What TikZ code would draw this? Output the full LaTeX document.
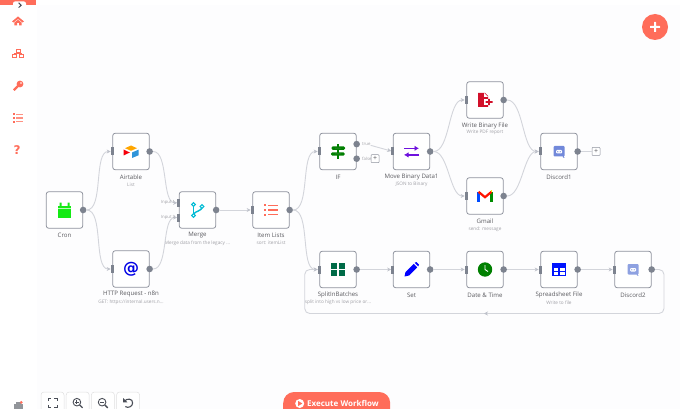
\documentclass[tikz,border=0pt]{standalone}
\usepackage{fontspec}
\setmainfont{Open Sans}
\newfontfamily\symfont{DejaVu Sans}
\usetikzlibrary{positioning, arrows.meta, shapes.geometric}
\definecolor{n8nred}{HTML}{FF6D5A}
\definecolor{canvasbg}{HTML}{FDFDFE}
\definecolor{boxline}{HTML}{8F939E}
\definecolor{portgray}{HTML}{7D838F}
\definecolor{linkgray}{HTML}{D3D5DB}
\definecolor{tipgray}{HTML}{BEC1CA}
\definecolor{namegray}{HTML}{5A5A5F}
\definecolor{subgray}{HTML}{A0A0A6}
\definecolor{discord}{HTML}{7289DA}
\definecolor{toolgray}{HTML}{4A4E57}
\definecolor{cronicon}{HTML}{14EA14}
\definecolor{mergeicon}{HTML}{00BBD4}
\definecolor{moveicon}{HTML}{6F12DE}
\definecolor{fileicon}{HTML}{D2102A}
\tikzstyle{nodebox} = [rectangle, rounded corners=2.5pt, line width=0.8pt, minimum size=36.5pt, inner sep=0pt, draw=boxline, fill=white]
\tikzstyle{inport} = [rectangle, minimum width=3pt, minimum height=8pt, inner sep=0pt, fill=portgray]
\tikzstyle{outport} = [circle, minimum size=6.6pt, inner sep=0pt, fill=portgray]
\tikzstyle{nodename} = [font=\fontsize{6.1}{7}\selectfont, text=namegray, inner sep=0pt, node distance=25.5pt]
\tikzstyle{nodesub} = [font=\fontsize{4.7}{5}\selectfont, text=subgray, inner sep=0pt, node distance=32.8pt]
\tikzstyle{portlabel} = [font=\fontsize{4.3}{5}\selectfont, text=subgray, inner sep=0pt]
\tikzstyle{addbox} = [rectangle, rounded corners=0.8pt, line width=0.5pt, minimum size=8pt, inner sep=0pt, draw=boxline, fill=white, font=\fontsize{7}{7}\selectfont, text=namegray]
\tikzstyle{toolbox} = [rectangle, rounded corners=3pt, line width=0.5pt, minimum width=23pt, minimum height=34pt, draw=black!12, fill=white]
\tikzstyle{arrow} = [line width=0.9pt, draw=linkgray, -{Stealth[length=4pt, width=4pt, color=tipgray]}]
\tikzstyle{link} = [line width=0.9pt, draw=linkgray]
\tikzstyle{elbow} = [out=0, in=180, looseness=0.7]
\begin{document}
\begin{tikzpicture}[x=1pt, y=-1pt, node distance=73.5pt]
    \useasboundingbox (0,0) rectangle (680,409);
    \clip (0,0) rectangle (680,409);
    \fill [white] (0,0) rectangle (680,409);
    \fill [canvasbg] (37,5) rectangle (680,409);
    % workflow nodes
    \node (cron) [nodebox] at (64.5,210) {};
    \node (airtable) [nodebox, right of=cron, xshift=-7pt, yshift=58.5pt] {};
    \node (http) [nodebox, right of=cron, xshift=-7pt, yshift=-59pt] {};
    \node (merge) [nodebox, right of=cron, xshift=59.5pt] {};
    \node (itemlists) [nodebox, right of=merge] {};
    \node (if) [nodebox, right of=itemlists, xshift=-6.5pt, yshift=58.5pt] {};
    \node (movebin) [nodebox, right of=if] {};
    \node (writebin) [nodebox, right of=movebin, yshift=51.5pt] {};
    \node (gmail) [nodebox, right of=movebin, yshift=-44.5pt] {};
    \node (discordone) [nodebox, right of=movebin, xshift=74pt] {};
    \node (split) [nodebox, right of=itemlists, xshift=-6.5pt, yshift=-59.5pt] {};
    \node (set) [nodebox, right of=split] {};
    \node (datetime) [nodebox, right of=set] {};
    \node (sheet) [nodebox, right of=datetime, xshift=0.5pt] {};
    \node (discordtwo) [nodebox, right of=sheet, xshift=0.5pt] {};
    % ports
    \node (cronout) [outport] at (cron.east) {};
    \node (airtablein) [inport] at (airtable.west) {};
    \node (airtableout) [outport] at (airtable.east) {};
    \node (httpin) [inport] at (http.west) {};
    \node (httpout) [outport] at (http.east) {};
    \node (mergeina) [inport, yshift=7.2pt] at (merge.west) {};
    \node (mergeinb) [inport, yshift=-7.5pt] at (merge.west) {};
    \node (mergeout) [outport] at (merge.east) {};
    \node (itemlistsin) [inport] at (itemlists.west) {};
    \node (itemlistsout) [outport] at (itemlists.east) {};
    \node (ifin) [inport] at (if.west) {};
    \node (iftrue) [outport, yshift=7.4pt] at (if.east) {};
    \node (iffalse) [outport, yshift=-7.2pt] at (if.east) {};
    \node (movebinin) [inport] at (movebin.west) {};
    \node (movebinout) [outport] at (movebin.east) {};
    \node (writebinin) [inport] at (writebin.west) {};
    \node (writebinout) [outport] at (writebin.east) {};
    \node (gmailin) [inport] at (gmail.west) {};
    \node (gmailout) [outport] at (gmail.east) {};
    \node (discordonein) [inport] at (discordone.west) {};
    \node (discordoneout) [outport] at (discordone.east) {};
    \node (splitin) [inport] at (split.west) {};
    \node (splitout) [outport] at (split.east) {};
    \node (setin) [inport] at (set.west) {};
    \node (setout) [outport] at (set.east) {};
    \node (datetimein) [inport] at (datetime.west) {};
    \node (datetimeout) [outport] at (datetime.east) {};
    \node (sheetin) [inport] at (sheet.west) {};
    \node (sheetout) [outport] at (sheet.east) {};
    \node (discordtwoin) [inport] at (discordtwo.west) {};
    \node (discordtwoout) [outport] at (discordtwo.east) {};
    % texts
    \node (crontext) [nodename, below of=cron] {Cron};
    \node (airtabletext) [nodename, below of=airtable] {Airtable};
    \node (airtablesub) [nodesub, below of=airtable] {List};
    \node (httptext) [nodename, below of=http] {HTTP Request - n8n};
    \node (httpsub) [nodesub, below of=http] {GET: https://internal.users.n...};
    \node (mergetext) [nodename, below of=merge] {Merge};
    \node (mergesub) [nodesub, below of=merge] {Merge data from the legacy ...};
    \node (itemliststext) [nodename, below of=itemlists] {Item Lists};
    \node (itemlistssub) [nodesub, below of=itemlists] {sort: itemList};
    \node (iftext) [nodename, below of=if] {IF};
    \node (movebintext) [nodename, below of=movebin] {Move Binary Data1};
    \node (movebinsub) [nodesub, below of=movebin] {JSON to Binary};
    \node (writebintext) [nodename, below of=writebin] {Write Binary File};
    \node (writebinsub) [nodesub, below of=writebin] {Write PDF report};
    \node (gmailtext) [nodename, below of=gmail] {Gmail};
    \node (gmailsub) [nodesub, below of=gmail] {send: message};
    \node (discordonetext) [nodename, below of=discordone] {Discord1};
    \node (splittext) [nodename, below of=split] {SplitInBatches};
    \node (splitsub) [nodesub, below of=split] {split into high vs low price or...};
    \node (settext) [nodename, below of=set] {Set};
    \node (datetimetext) [nodename, below of=datetime] {Date \& Time};
    \node (sheettext) [nodename, below of=sheet] {Spreadsheet File};
    \node (sheetsub) [nodesub, below of=sheet] {Write to file};
    \node (discordtwotext) [nodename, below of=discordtwo] {Discord2};
    \node (iflabela) [portlabel, right=1.8pt of iftrue] {true};
    \node (iflabelb) [portlabel, right=1.8pt of iffalse] {false};
    \node (ifadd) [addbox] at (375,158.7) {+};
    \node (discordadd) [addbox] at (596,151.5) {+};
    % connectors
    \draw [arrow] (cronout) to[elbow] (airtablein);
    \draw [arrow] (cronout) to[elbow] (httpin);
    \draw [arrow] (airtableout) to[elbow] (mergeina);
    \draw [arrow] (httpout) to[elbow] (mergeinb);
    \draw [arrow] (mergeout) -- (itemlistsin);
    \draw [arrow] (itemlistsout) to[elbow] (ifin);
    \draw [arrow] (itemlistsout) to[elbow] (splitin);
    \draw [arrow] (iflabela) -- (movebinin);
    \draw [arrow] (movebinout) to[elbow] (writebinin);
    \draw [arrow] (movebinout) to[elbow] (gmailin);
    \draw [arrow] (writebinout) to[elbow] (discordonein);
    \draw [arrow] (gmailout) to[elbow] (discordonein);
    \draw [link] (discordoneout) -- (discordadd);
    \draw [arrow] (splitout) -- (setin);
    \draw [arrow] (setout) -- (datetimein);
    \draw [arrow] (datetimeout) -- (sheetin);
    \draw [arrow] (sheetout) -- (discordtwoin);
    \coordinate (loopa) at (664,269.5);
    \coordinate (loopb) at (664,313.5);
    \coordinate (loopc) at (484,313.5);
    \coordinate (loopd) at (304.7,313.5);
    \coordinate (loope) at (304.7,269.5);
    \draw [link, rounded corners=5pt] (discordtwoout) -- (loopa) -- (loopb) -- (loopd) -- (loope) -- (splitin);
    \draw [arrow] (loopb) ++(-100,0) -- (loopc);
    \draw [arrow] (loope) ++(6,0) -- (splitin);
    \node (mergelabela) [portlabel, left=1.8pt of mergeina] {Input 1};
    \node (mergelabelb) [portlabel, left=1.8pt of mergeinb] {Input 2};
    % node icons
    \begin{scope}[shift={(cron.center)}]
      \fill [cronicon] (-6.5,-4.5) rectangle (6.5,7.5);
      \fill [cronicon] (-5,-7.5) rectangle (-3,-4) (3,-7.5) rectangle (5,-4);
      \fill [white!70!cronicon] (-6.5,-2.2) rectangle (6.5,-1.6);
    \end{scope}
    \begin{scope}[shift={(airtable.center)}]
      \fill [orange!70!yellow] (-6,-3.3) -- (0,-6) -- (6,-3.3) -- (0,-0.7) -- cycle;
      \fill [cyan!70!blue!85] (1,1) -- (7.5,-1.8) -- (7.5,3.8) -- (1,6.5) -- cycle;
      \fill [red!85!purple] (-7.5,-2) -- (-1.2,1) -- (-7.5,4) -- cycle;
    \end{scope}
    \node (httpicon) [text=blue!90!black, font=\symfont\bfseries\fontsize{16}{16}\selectfont, inner sep=0pt] at (http.center) {@};
    \begin{scope}[shift={(merge.center)}, draw=mergeicon, line width=1.4pt]
      \draw (-4,-5.5) -- (-4,5.5);
      \draw (4.5,-3) .. controls (4.5,1) and (-2,1) .. (-4,4);
      \draw [fill=white, line width=1pt] (-4,-5.5) circle (1.8) (-4,5.5) circle (1.8) (4.5,-3.5) circle (1.8);
    \end{scope}
    \begin{scope}[shift={(itemlists.center)}]
      \foreach \rowy in {-4.6,0,4.6} {
        \fill [n8nred] (-7.2,\rowy-1) rectangle (-5.2,\rowy+1);
        \fill [n8nred] (-3,\rowy-0.8) rectangle (7.2,\rowy+0.8);
      }
    \end{scope}
    \begin{scope}[shift={(if.center)}, green!50!black]
      \fill (-0.8,-7.5) rectangle (0.8,7.5);
      \fill [rounded corners=1.2pt] (-6.5,-5) rectangle (7,-1.6);
      \fill [rounded corners=1.2pt] (-7,0.8) rectangle (6.5,4.2);
      \fill [white!60!green!50!black] (-3,-3.6) rectangle (3,-3.1) (-3,2.2) rectangle (3,2.7);
    \end{scope}
    \begin{scope}[shift={(movebin.center)}, draw=moveicon, line width=1.5pt]
      \draw [-{Latex[length=4.5pt, width=5.5pt]}] (-7.5,-3.2) -- (7.5,-3.2);
      \draw [-{Latex[length=4.5pt, width=5.5pt]}] (7.5,3.4) -- (-7.5,3.4);
    \end{scope}
    \begin{scope}[shift={(writebin.center)}]
      \fill [fileicon] (-7,-7) -- (0,-7) -- (3,-4) -- (3,7) -- (-7,7) -- cycle;
      \fill [white] (-1.5,-0.5) rectangle (8,5);
      \fill [white] (-1,-7) -- (3,-3) -- (-1,-3) -- cycle;
      \fill [fileicon] (0.5,1.2) rectangle (7.5,2.8) (3.2,-1.2) rectangle (4.8,5.2);
    \end{scope}
    \begin{scope}[shift={(gmail.center)}, line width=2.2pt]
      \draw [blue!70!cyan] (-6.5,-4) -- (-6.5,5.5);
      \draw [green!55!black] (6.5,-4) -- (6.5,5.5);
      \draw [red!85!orange] (-6.5,-4.2) -- (0,1.2) -- (6.5,-4.2);
      \draw [yellow!90!orange] (5.6,-4.8) -- (7.2,-4.8);
    \end{scope}
    \foreach \dnode/\dshade in {discordone/100,discordtwo/80} {
      \begin{scope}[shift={(\dnode.center)}]
        \fill [discord!\dshade, rounded corners=1pt] (-5.5,-5.5) rectangle (5.5,5) -- (5.5,7) -- (3,5) -- cycle;
        \fill [white, rounded corners=1pt] (-3,-1.5) rectangle (3,2);
        \fill [discord!\dshade] (-1.2,0.3) circle (0.7) (1.2,0.3) circle (0.7);
      \end{scope}
    }
    \begin{scope}[shift={(split.center)}]
      \foreach \cellx/\celly in {-7/-6.5,0.6/-6.5,-7/0.4,0.6/0.4}
        \fill [teal!80!green!70!black] (\cellx,\celly) rectangle +(6.4,6.2);
    \end{scope}
    \begin{scope}[shift={(set.center)}]
      \fill [blue] (-7,7) -- (-6,2.5) -- (2.2,-5.6) -- (5.7,-2.1) -- (-2.5,6) -- cycle;
      \fill [blue] (3.2,-6.6) -- (4.8,-7.5) -- (7.5,-4.8) -- (6.7,-3.1) -- cycle;
    \end{scope}
    \begin{scope}[shift={(datetime.center)}]
      \fill [green!50!black] (0,0) circle (7.2);
      \draw [white, line width=0.9pt] (0,-4.5) -- (0,0) -- (3,2);
    \end{scope}
    \begin{scope}[shift={(sheet.center)}]
      \fill [blue!92!cyan] (-7,-6.2) rectangle (7,6.5);
      \foreach \cellx/\celly in {-5.5/-1.2,0.9/-1.2,-5.5/2.6,0.9/2.6}
        \fill [white] (\cellx,\celly) rectangle +(4.6,2.7);
    \end{scope}
    % left menu
    \fill [n8nred] (0,0) rectangle (36,5);
    \fill [white, rounded corners=2pt] (13,1.5) rectangle (26,9);
    \coordinate (menua) at (18.6,2.8);
    \coordinate (menub) at (21.2,5.2);
    \coordinate (menuc) at (18.6,7.6);
    \draw [toolgray, line width=1pt] (menua) -- (menub) -- (menuc);
    \begin{scope}[shift={(18,21)}, n8nred]
      \fill (-6,0.5) -- (0,-4.5) -- (6,0.5) -- (4.5,1.5) -- (0,-2) -- (-4.5,1.5) -- cycle;
      \fill (-3.7,1.6) -- (0,-1.2) -- (3.7,1.6) -- (3.7,4.5) -- (1,4.5) -- (1,2) -- (-1,2) -- (-1,4.5) -- (-3.7,4.5) -- cycle;
    \end{scope}
    \begin{scope}[shift={(18,53.5)}, draw=n8nred, line width=0.9pt]
      \draw (-2,-4.3) rectangle (2,-1.5);
      \draw (-5.2,1) rectangle (-1.4,4);
      \draw (1.4,1) rectangle (5.2,4);
      \draw (0,-1.5) -- (0,-0.2) (-3.3,1) -- (-3.3,-0.2) -- (3.3,-0.2) -- (3.3,1);
    \end{scope}
    \begin{scope}[shift={(18,86)}, n8nred]
      \fill (2,-2) circle (3.4);
      \draw [line width=2.2pt] (1,-1) -- (-4.2,4.2);
      \fill [white] (3,-3) circle (0.8);
    \end{scope}
    \begin{scope}[shift={(18,118)}]
      \foreach \rowy in {-3.6,0,3.6} {
        \fill [n8nred] (-5.2,\rowy-1) rectangle (-3.2,\rowy+1);
        \fill [n8nred!75!white] (-1.6,\rowy-0.6) rectangle (5.2,\rowy+0.6);
      }
    \end{scope}
    \node (helpicon) [text=n8nred, inner sep=0pt, font=\symfont\bfseries\fontsize{12}{12}\selectfont] at (17,150) {?};
    % status icon
    \fill [toolgray!60] (14,404) rectangle (23,409);
    \fill [toolgray!60] (16,402) rectangle (21,404);
    \fill [n8nred] (21.3,402.3) circle (1.5);
    % zoom buttons
    \node (btnfit) [toolbox] at (52.5,409) {};
    \node (btnzoomin) [toolbox, right of=btnfit, node distance=25.2pt] {};
    \node (btnzoomout) [toolbox, right of=btnzoomin, node distance=25.2pt] {};
    \node (btnreset) [toolbox, right of=btnzoomout, node distance=25.2pt] {};
    \begin{scope}[shift={(52.5,403)}, draw=toolgray, line width=0.9pt]
      \draw (-4.5,-1.8) -- (-4.5,-4.5) -- (-1.8,-4.5) (1.8,-4.5) -- (4.5,-4.5) -- (4.5,-1.8);
      \draw (-4.5,1.8) -- (-4.5,4.5) -- (-1.8,4.5) (1.8,4.5) -- (4.5,4.5) -- (4.5,1.8);
    \end{scope}
    \foreach \btn/\plus in {btnzoomin/1,btnzoomout/0} {
      \begin{scope}[shift={(\btn.center)}, yshift=6pt, draw=toolgray, line width=0.9pt]
        \draw (-0.8,-0.8) circle (3.8);
        \draw [line width=1.3pt] (2,2) -- (4.8,4.8);
        \draw (-2.6,-0.8) -- (1,-0.8);
        \ifnum\plus=1 \draw (-0.8,-2.6) -- (-0.8,1); \fi
      \end{scope}
    }
    \begin{scope}[shift={(btnreset.center)}, yshift=6pt]
      \draw [toolgray, line width=1.1pt] (-3.5,-2) .. controls (-1,-5) and (4.8,-4.5) .. (4.5,0) .. controls (4.5,3.5) and (0,5.5) .. (-2.8,3.6);
      \fill [toolgray] (-5,-5) -- (-5,-0.7) -- (-0.7,-0.7) -- cycle;
    \end{scope}
    % execute button
    \node (execbtn) [rectangle, rounded corners=11pt, minimum width=107pt, minimum height=34pt, fill=n8nred] at (336.7,409) {};
    \node (exectext) [inner sep=0pt, text=white, font=\fontsize{8}{9}\selectfont\bfseries] at (343,403.4) {Execute Workflow};
    \node (execplay) [circle, fill=white, minimum size=9pt, inner sep=0pt] at (299.7,403.5) {};
    \fill [n8nred] (298.2,401) -- (302.4,403.5) -- (298.2,406) -- cycle;
    % add button
    \node (addbtn) [circle, fill=n8nred, minimum size=26pt, inner sep=0pt] at (655,27) {};
    \fill [white, rounded corners=0.4pt] (650,26) rectangle (660,28) (654,22) rectangle (656,32);
  \end{tikzpicture}
\end{document}
